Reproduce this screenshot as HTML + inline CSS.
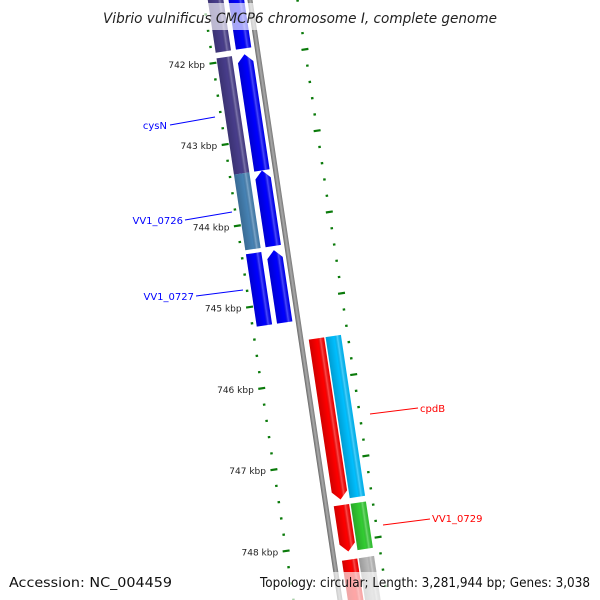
<!DOCTYPE html>
<html><head><meta charset="utf-8"><style>
html,body{margin:0;padding:0;background:#fff;width:600px;height:600px;overflow:hidden;}
svg{display:block;font-family:"DejaVu Sans","Liberation Sans",sans-serif;overflow:hidden;}
</style></head><body>
<svg id="map" width="600" height="600" viewBox="0 0 600 600">
<defs>
<linearGradient id="bb" x1="0" x2="1" y1="0" y2="0"><stop offset="0" stop-color="#666"/><stop offset="0.5" stop-color="#aaa"/><stop offset="1" stop-color="#777"/></linearGradient>
<linearGradient id="sh" x1="0" x2="1" y1="0" y2="0"><stop offset="0" stop-color="#000" stop-opacity="0.18"/><stop offset="0.55" stop-color="#000" stop-opacity="0"/><stop offset="0.75" stop-color="#fff" stop-opacity="0.3"/><stop offset="1" stop-color="#000" stop-opacity="0.05"/></linearGradient>
<clipPath id="clip"><rect x="0" y="0" width="600" height="600"/></clipPath>
</defs>
<g clip-path="url(#clip)">
<g id="frame" transform="translate(250,0) rotate(-8.53)"></g>
</g>
<g id="labels"></g>
<g id="annots"></g>
<rect x="0" y="3" width="600" height="27" fill="#fff" opacity="0.65"/>
<text x="103" y="23" textLength="394" lengthAdjust="spacingAndGlyphs" font-size="14" font-style="italic" fill="#222">Vibrio vulnificus CMCP6 chromosome I, complete genome</text>
<rect x="0" y="572" width="600" height="28" fill="#fff" opacity="0.65"/>
<text x="9" y="587" textLength="163" lengthAdjust="spacingAndGlyphs" font-size="13" fill="#111">Accession: NC_004459</text>
<text x="260" y="587" textLength="330" lengthAdjust="spacingAndGlyphs" font-size="13" fill="#111">Topology: circular; Length: 3,281,944 bp; Genes: 3,038</text>
</svg>
<script>
// Gene data (kbp)
const geneStarts = [741.0, 741.95, 743.38, 744.36, 745.50, 747.55, 748.22];
const geneEnds   = [741.88, 743.38, 744.31, 745.25, 747.48, 748.12, 749.0];
const geneStrand = [1, 1, 1, 1, -1, -1, -1];
const cogColors  = ["#483d8b", "#483d8b", "#4682b4", "#0000ff", "#00bfff", "#32cd32", "#bbbbbb"];
const geneNames  = ["", "cysN", "VV1_0726", "VV1_0727", "cpdB", "VV1_0729", ""];
const majorTicks = [742, 743, 744, 745, 746, 747, 748];
const tickLabels = ["742 kbp", "743 kbp", "744 kbp", "745 kbp", "746 kbp", "747 kbp", "748 kbp"];

const NS = "http://www.w3.org/2000/svg";
const A = -8.53 * Math.PI / 180;
const C = Math.cos(A), S = Math.sin(A);
function sPos(k) { return 56.9 + (k - 742) * 82.2; }
function toScreen(p, s) { return [250 + p * C - s * S, p * S + s * C]; }
const frame = document.getElementById('frame');

const bb = document.createElementNS(NS, 'rect');
bb.setAttribute('x', -2.5); bb.setAttribute('y', -20); bb.setAttribute('width', 5); bb.setAttribute('height', 640);
bb.setAttribute('fill', 'url(#bb)');


frame.appendChild(bb);

for (let k = 741.2; k <= 748.81; k += 0.2) {
  const kk = Math.round(k * 10) / 10;
  const major = Math.abs(kk - Math.round(kk)) < 0.01;
  [-46, 47].forEach(pc => {
    const t = document.createElementNS(NS, 'rect');
    const len = major ? 7 : 2.5;
    t.setAttribute('x', pc - len / 2); t.setAttribute('y', sPos(kk) - 1);
    t.setAttribute('width', len); t.setAttribute('height', 2.2);
    t.setAttribute('fill', '#0a7a0a');
    
    
    frame.appendChild(t);
  });
}
const labels = document.getElementById('labels');
majorTicks.forEach((k, i) => {
  const [x, y] = toScreen(-54, sPos(k));
  const t = document.createElementNS(NS, 'text');
  t.setAttribute('x', x); t.setAttribute('y', y + 3.5);
  t.setAttribute('text-anchor', 'end'); t.setAttribute('font-size', '9'); t.setAttribute('fill', '#222');
  t.textContent = tickLabels[i];
  
  
  labels.appendChild(t);
});

const W = 15.5, HEAD = 8;
function addShape(d, fill, name) {
  [fill, 'url(#sh)'].forEach((f, j) => {
    const p = document.createElementNS(NS, 'path');
    p.setAttribute('d', d); p.setAttribute('fill', f);
    
    
    frame.appendChild(p);
  });
}
geneStarts.forEach((st, i) => {
  const s0 = sPos(st), s1 = sPos(geneEnds[i]);
  const str = geneStrand[i];
  const pc = str > 0 ? -13.5 : 15.5;
  const pcog = str > 0 ? -34 : 32.5;
  const x0 = pc - W / 2, x1 = pc + W / 2;
  let d;
  if (str > 0) {
    d = `M${x0},${s1}L${x0},${s0 + HEAD}L${pc},${s0}L${x1},${s0 + HEAD}L${x1},${s1}Z`;
  } else {
    d = `M${x0},${s0}L${x1},${s0}L${x1},${s1 - HEAD}L${pc},${s1}L${x0},${s1 - HEAD}Z`;
  }
  addShape(d, str > 0 ? '#0000ff' : '#ff0000', 'gene-arrow');
  const c0 = pcog - W / 2, c1 = pcog + W / 2;
  addShape(`M${c0},${s0}L${c1},${s0}L${c1},${s1}L${c0},${s1}Z`, cogColors[i], 'cog-feature');
});

const annotLines = [[170,125,215,117],[185,220,232,212],[196,296,243,290],[370,414,418,408],[383,525,430,519]];
const annotText = [[167,129,'end'],[183,224,'end'],[194,300,'end'],[420,412,'start'],[432,522,'start']];
const annots = document.getElementById('annots');
let ai = 0;
geneNames.forEach((nm, i) => {
  if (!nm) return;
  const col = geneStrand[i] > 0 ? '#0000ff' : '#ff0000';
  const L = annotLines[ai], T = annotText[ai]; ai++;
  const ln = document.createElementNS(NS, 'line');
  ln.setAttribute('x1', L[0]); ln.setAttribute('y1', L[1]); ln.setAttribute('x2', L[2]); ln.setAttribute('y2', L[3]);
  ln.setAttribute('stroke', col); ln.setAttribute('stroke-width', '1');
  
  
  annots.appendChild(ln);
  const t = document.createElementNS(NS, 'text');
  t.setAttribute('x', T[0]); t.setAttribute('y', T[1]); t.setAttribute('text-anchor', T[2]);
  t.setAttribute('font-size', '10'); t.setAttribute('fill', col);
  t.textContent = nm;
  
  
  annots.appendChild(t);
});
</script>
</body></html>
